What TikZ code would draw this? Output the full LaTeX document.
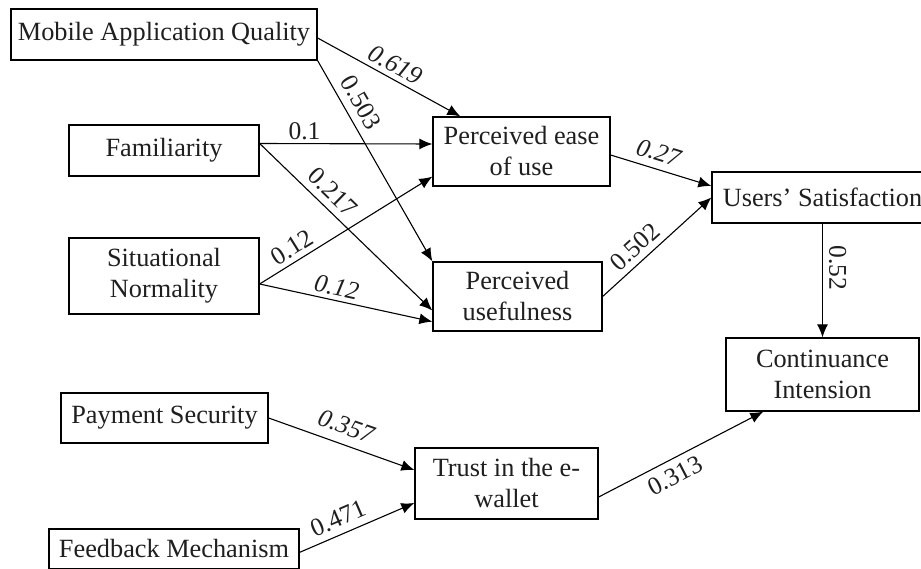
\documentclass[tikz,border=0pt]{standalone}
\usepackage{fontspec}
\setmainfont{Liberation Serif}
\usetikzlibrary{arrows.meta,calc}
\begin{document}
\begin{tikzpicture}[x=1pt,y=-1pt,
  box/.style={draw=black, line width=1.3pt, inner sep=0pt, align=center,
    font=\fontsize{26.3}{31}\selectfont, text=black!88},
  arr/.style={line width=1.1pt, -{Latex[length=13pt,width=11pt]}},
  lbl/.style={font=\fontsize{25.5}{30}\selectfont, inner sep=3pt, text=black!88},
]
\useasboundingbox (0,0) rectangle (921,569);
\clip (0,0) rectangle (921,569);
\fill[white] (0,0) rectangle (921,569);

\node[box, minimum width=306pt, minimum height=51pt] (maq) at (164,34.5) {Mobile Application Quality};
\node[box, minimum width=190pt, minimum height=51pt] (fam) at (164,150.5) {Familiarity};
\node[box, minimum width=190pt, minimum height=76pt] (sn) at (164,276) {Situational\\Normality};
\node[box, minimum width=177pt, minimum height=69pt] (peou) at (521.5,151.5) {Perceived ease\\of use};
\node[box, minimum width=169pt, minimum height=69pt] (pu) at (517.5,296.5) {Perceived\\usefulness};
\node[box, minimum width=221pt, minimum height=51pt] (us) at (822.5,197.5) {Users’ Satisfaction};
\node[box, minimum width=193pt, minimum height=73pt] (ci) at (822.5,374.5) {Continuance\\Intension};
\node[box, minimum width=207pt, minimum height=50pt] (ps) at (164.5,418) {Payment Security};
\node[box, minimum width=183pt, minimum height=71pt] (trust) at (506.5,483.5) {Trust in the e-\\wallet};
\node[box, minimum width=250pt, minimum height=40pt] (fm) at (174,549) {Feedback Mechanism};

\draw[arr] ($(maq.east)+(0,3.5)$) -- ($(peou.north west)+(28,0)$)
  node[lbl, pos=0.5, sloped, above, inner sep=5pt] {\itshape 0.619};
\draw[arr] (maq.south east) -- (pu.north west)
  node[lbl, pos=0.25, sloped, above, inner sep=8pt] {0.503};
\draw[arr] ($(fam.east)+(0,-7)$) -- ($(peou.west)+(0,-7.5)$)
  node[lbl, pos=0.26, above] {0.1};
\draw[arr] ($(fam.east)+(0,-7)$) -- ($(pu.west)+(0,14)$)
  node[lbl, pos=0.36, sloped, above, inner sep=7pt] {0.217};
\draw[arr] ($(sn.east)+(0,8)$) -- ($(peou.south west)+(0,-10)$)
  node[lbl, pos=0.23, sloped, above, inner sep=5pt] {0.12};
\draw[arr] ($(sn.east)+(0,8)$) -- ($(pu.south west)+(0,-10)$)
  node[lbl, pos=0.43, sloped, above, inner sep=4pt] {\itshape 0.12};
\draw[arr] ($(peou.east)+(0,3.5)$) -- ($(us.west)+(0,-11.5)$)
  node[lbl, pos=0.43, sloped, above, inner sep=7pt] {\itshape 0.27};
\draw[arr] (pu.east) -- (us.west)
  node[lbl, pos=0.39, sloped, above, inner sep=6pt] {0.502};
\draw[arr] (us.south) -- (ci.north)
  node[lbl, pos=0.39, rotate=-90, anchor=south, inner sep=6pt] {0.52};
\draw[arr] (ps.east) -- ($(trust.west)+(0,-13.5)$)
  node[lbl, pos=0.49, sloped, above, inner sep=9pt] {\itshape 0.357};
\draw[arr] ($(fm.north east)+(0,24)$) -- ($(trust.west)+(0,19.5)$)
  node[lbl, pos=0.39, sloped, above, inner sep=7pt] {0.471};
\draw[arr] ($(trust.east)+(0,13.5)$) -- ($(ci.south west)+(38,0)$)
  node[lbl, pos=0.42, sloped, below, inner sep=7pt] {0.313};
\end{tikzpicture}
\end{document}
